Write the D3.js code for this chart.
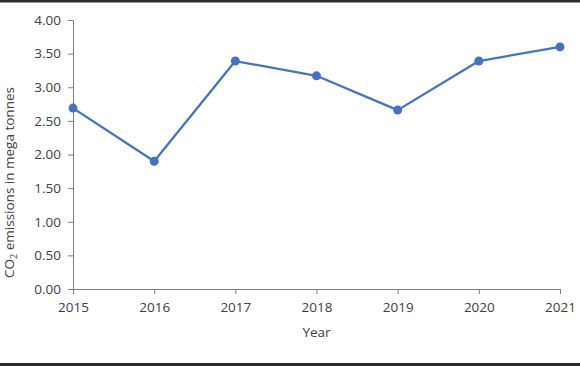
<!DOCTYPE html>
<html><head><meta charset="utf-8">
<script src="https://cdn.jsdelivr.net/npm/d3@7"></script>
<style>
html,body{margin:0;padding:0;background:#fff;}
svg text{font-family:"Open Sans",sans-serif;fill:#404040;}
</style></head>
<body>
<svg id="chart" width="580" height="366"></svg>
<script>
const years = [2015, 2016, 2017, 2018, 2019, 2020, 2021];
const emissions = [2.69, 1.90, 3.39, 3.17, 2.66, 3.39, 3.60];
const yTicks = [0, 0.5, 1, 1.5, 2, 2.5, 3, 3.5, 4];

const svg = d3.select("#chart");
const W = 580, H = 366;
const m = {left: 73, right: 20, top: 20, bottom: 77};
const FS = 13.5;

svg.append("rect").attr("x",0).attr("y",0).attr("width",W).attr("height",2.5).attr("fill","#2b2b2b");
svg.append("rect").attr("x",0).attr("y",363).attr("width",W).attr("height",3).attr("fill","#2b2b2b");

const x = d3.scaleLinear().domain([2015, 2021]).range([m.left, W - m.right]);
const y = d3.scaleLinear().domain([0, 4]).range([H - m.bottom, m.top]);

const gx = svg.append("g").attr("transform", `translate(0,${y(0)})`)
  .call(d3.axisBottom(x).tickValues(years).tickFormat(d3.format("d")).tickSize(5).tickSizeOuter(0).tickPadding(8));
const gy = svg.append("g").attr("transform", `translate(${m.left},0)`)
  .call(d3.axisLeft(y).tickValues(yTicks).tickFormat(d3.format(".2f")).tickSize(5).tickSizeOuter(0).tickPadding(7));
[gx, gy].forEach(g => {
  g.selectAll("path").attr("stroke", "#7f7f7f");
  g.selectAll("line").attr("stroke", "#7f7f7f");
  g.selectAll("text").attr("font-size", FS).attr("fill", "#404040").attr("font-family", "'Open Sans',sans-serif");
});

const line = d3.line().x((d, i) => x(years[i])).y(d => y(d));
svg.append("path").datum(emissions).attr("d", line)
  .attr("fill", "none").attr("stroke", "#4472c4").attr("stroke-width", 2.25).attr("stroke-linejoin","round");
svg.selectAll("circle.pt").data(emissions).enter().append("circle")
  .attr("cx", (d, i) => x(years[i])).attr("cy", d => y(d)).attr("r", 4.5).attr("fill", "#4472c4");

svg.append("text").attr("x", (x(2015) + x(2021)) / 2).attr("y", 337).attr("text-anchor", "middle")
  .attr("font-size", FS).text("Year");

const yt = svg.append("text").attr("transform", `translate(14,${(y(0)+y(4))/2 + 28}) rotate(-90)`)
  .attr("text-anchor", "middle").attr("font-size", FS);
yt.append("tspan").text("CO");
yt.append("tspan").attr("font-size", 9).attr("dy", 3).text("2");
yt.append("tspan").attr("dy", -3).text(" emissions in mega tonnes");
</script>
</body></html>
